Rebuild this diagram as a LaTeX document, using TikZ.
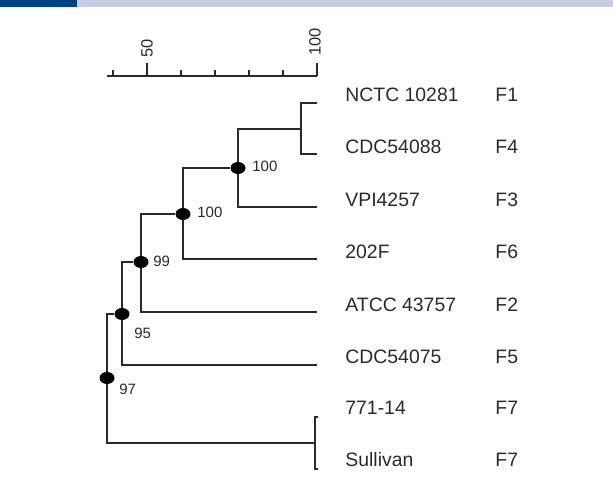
\documentclass[tikz,border=0pt]{standalone}
\usepackage{fontspec}
\setmainfont{Liberation Sans}
\usetikzlibrary{positioning,shapes.geometric}
\definecolor{banner}{HTML}{00427E}
\definecolor{bannerlt}{HTML}{C6CDE1}
\definecolor{ink}{HTML}{2A2A2A}

\begin{document}
\begin{tikzpicture}[
    x=0.5pt, y=-0.5pt,
    branch/.style={draw=ink, line width=0.6pt},
    bnode/.style={ellipse, fill=black, minimum width=7.5pt, minimum height=6pt, inner sep=0pt},
    boot/.style={font=\fontsize{7.5}{9}\selectfont, text=ink, inner sep=0pt, anchor=west},
    strain/.style={font=\fontsize{9.7}{11}\selectfont, text=ink, inner sep=0pt, anchor=west},
    scalelbl/.style={font=\fontsize{8.2}{10}\selectfont, text=ink, inner sep=0pt, rotate=90, anchor=west},
]
\useasboundingbox (0,0) rectangle (613,486);
% header band
\fill[banner] (0,0) rectangle (77,7);
\fill[bannerlt] (77,0) rectangle (613,7);

% scale bar
\draw[branch] (107,76) -- (317,76);
\foreach \x in {113,181,215,249,283} \draw[branch] (\x,76) -- (\x,70);
\draw[branch] (147,76) -- (147,63);
\draw[branch] (317,76) -- (317,63);
\node[scalelbl] (s50) at (147,58) {50};
\node[scalelbl] (s100) at (315,56) {100};

% leaf tips
\coordinate (t1) at (317,103);
\coordinate (t4) at (317,154);
\coordinate (t3) at (317,207);
\coordinate (t6) at (317,259);
\coordinate (t2) at (317,312);
\coordinate (t5) at (317,365);
\coordinate (t7a) at (318,417);
\coordinate (t7b) at (318,469);

% internal nodes
\coordinate (a) at (301,129);
\node[bnode] (b) at (238,168) {};
\node[bnode] (c) at (183,214) {};
\node[bnode] (d) at (141,262) {};
\node[bnode] (e) at (122,314) {};
\node[bnode] (r) at (107,378) {};
\coordinate (g) at (315,443);

\draw[branch] (a) |- (t1);
\draw[branch] (a) |- (t4);
\draw[branch] (b) |- (a);
\draw[branch] (b) |- (t3);
\draw[branch] (c) |- (b);
\draw[branch] (c) |- (t6);
\draw[branch] (d) |- (c);
\draw[branch] (d) |- (t2);
\draw[branch] (e) |- (d);
\draw[branch] (e) |- (t5);
\draw[branch] (r) |- (e);
\draw[branch] (r) |- (g);
\draw[branch] (g) |- (t7a);
\draw[branch] (g) |- (t7b);

% bootstrap values
\node[boot] (bb) at (252,166) {100};
\node[boot] (bc) at (197,212) {100};
\node[boot] (bd) at (153,261) {99};
\node[boot] (be) at (134,333) {95};
\node[boot] (br) at (119,389) {97};

% strains
\node[strain] (nctc) at (345,95) {NCTC 10281};
\node[strain] (cdc88) at (345,147) {CDC54088};
\node[strain] (vpi) at (345,200) {VPI4257};
\node[strain] (f202) at (345,252) {202F};
\node[strain] (atcc) at (345,305) {ATCC 43757};
\node[strain] (cdc75) at (345,357) {CDC54075};
\node[strain] (m771) at (345,408) {771-14};
\node[strain] (sull) at (345,460) {Sullivan};

% groups
\node[strain] (g1) at (495,95) {F1};
\node[strain] (g4) at (495,147) {F4};
\node[strain] (g3) at (495,200) {F3};
\node[strain] (g6) at (495,252) {F6};
\node[strain] (g2) at (495,305) {F2};
\node[strain] (g5) at (495,357) {F5};
\node[strain] (g7a) at (495,408) {F7};
\node[strain] (g7b) at (495,460) {F7};
\end{tikzpicture}
\end{document}
